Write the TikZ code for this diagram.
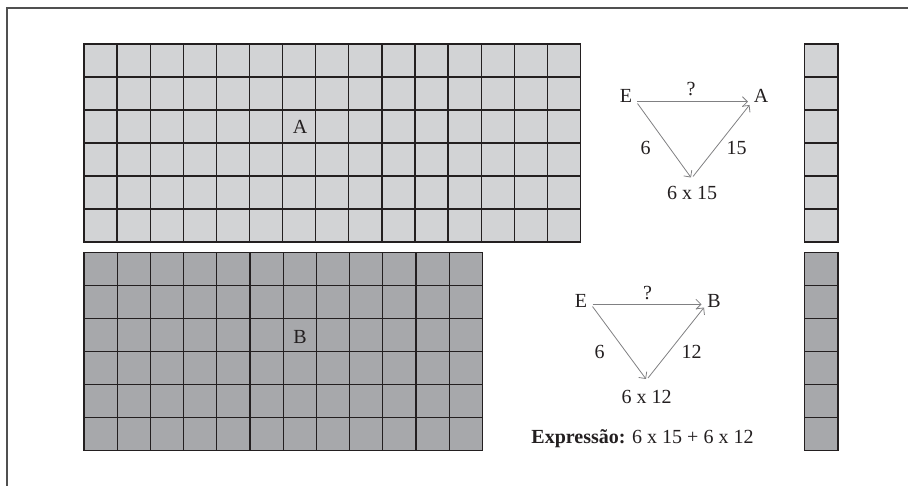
\documentclass[tikz,border=0pt]{standalone}
\usepackage{fontspec}
\setmainfont{Liberation Serif}
\usetikzlibrary{arrows.meta}
\definecolor{lightA}{RGB}{210,211,213}
\definecolor{darkB}{RGB}{167,168,171}
\definecolor{gridline}{RGB}{35,31,32}
\definecolor{arrowgray}{RGB}{128,128,130}
\definecolor{framegray}{RGB}{80,80,80}
\begin{document}
\begin{tikzpicture}[x=1pt,y=-1pt,
  cellA/.style={draw=gridline, line width=1.3pt, fill=lightA},
  cellB/.style={draw=gridline, line width=1.3pt, fill=darkB},
  conn/.style={draw=arrowgray, line width=0.8pt, -{Straight Barb[length=5pt,width=10pt]}},
  lbl/.style={font=\fontsize{20}{22}\selectfont, text=gridline, inner sep=0pt},
]
\useasboundingbox (0,0) rectangle (908,486);
\draw[framegray, line width=1.6pt] (7,486) -- (7,8) -- (908,8);
% grid A
\foreach \i in {0,...,14} \foreach \j in {0,...,5}
  \path[cellA] ({84+\i*33.1},{44+\j*33}) rectangle ++(33.1,33);
% grid B
\foreach \i in {0,...,11} \foreach \j in {0,...,5}
  \path[cellB] ({84+\i*33.2},{252.5+\j*33}) rectangle ++(33.2,33);
% strips
\foreach \j in {0,...,5} {
  \path[cellA] (804.5,{44+\j*33}) rectangle ++(33.5,33);
  \path[cellB] (804.5,{252.5+\j*33}) rectangle ++(33.5,33);
}
\node[lbl] (gA) at (300,127) {A};
\node[lbl] (gB) at (300,337) {B};
% triangle 1
\node[lbl] (E1) at (626,96) {E};
\node[lbl] (A1) at (761,96) {A};
\node[lbl] (q1) at (691,89) {?};
\node[lbl] (s1) at (645.5,148) {6};
\node[lbl] (t1) at (736.5,148) {15};
\node[lbl] (p1) at (692,193) {6 x 15};
\coordinate (e1a) at (637,101.7);
\coordinate (a1a) at (748,101.7);
\coordinate (e1b) at (637.5,103.5);
\coordinate (v1a) at (691,177.5);
\coordinate (v1b) at (693,176.5);
\coordinate (a1b) at (749.5,105);
\draw[conn] (e1a) -- (a1a);
\draw[conn] (e1b) -- (v1a);
\draw[conn] (v1b) -- (a1b);
% triangle 2
\node[lbl] (E2) at (581,300.5) {E};
\node[lbl] (B2) at (714,300.5) {B};
\node[lbl] (q2) at (647.5,293.5) {?};
\node[lbl] (s2) at (599.5,351.5) {6};
\node[lbl] (t2) at (691.5,351.5) {12};
\node[lbl] (p2) at (646.5,396.5) {6 x 12};
\coordinate (e2a) at (592.5,304.3);
\coordinate (b2a) at (701.5,304.3);
\coordinate (e2b) at (592.5,306.5);
\coordinate (v2a) at (646,379);
\coordinate (v2b) at (648,378);
\coordinate (b2b) at (704,307.5);
\draw[conn] (e2a) -- (b2a);
\draw[conn] (e2b) -- (v2a);
\draw[conn] (v2b) -- (b2b);
\node[lbl, anchor=base] (expr) at (642.5,443) {\textbf{Expressão:} 6 x 15 + 6 x 12};
\end{tikzpicture}
\end{document}
